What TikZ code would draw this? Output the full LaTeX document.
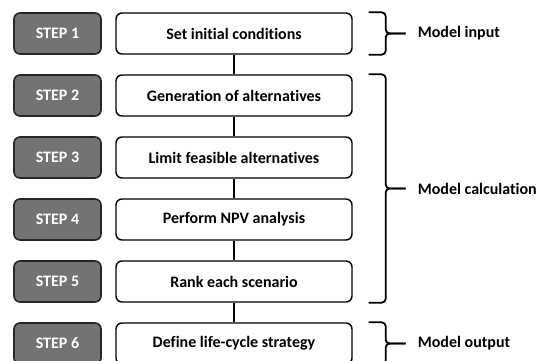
\documentclass[tikz,border=0pt]{standalone}
\usepackage{fontspec}
\setmainfont{Carlito}[Ligatures=NoCommon]
\usetikzlibrary{positioning, calc}

\tikzset{
    stepbox/.style={draw=black!85, fill=black!55, text=white, rounded corners=6pt,
        line width=1.6pt, minimum width=87pt, minimum height=41pt,
        font=\bfseries\fontsize{16}{19}\selectfont},
    taskbox/.style={draw=black, fill=white, rounded corners=6pt,
        line width=1.4pt, minimum width=236pt, minimum height=41pt,
        font=\bfseries\fontsize{16}{19}\selectfont},
    lbl/.style={anchor=west, inner sep=2pt, font=\bfseries\fontsize{16}{19}\selectfont},
    link/.style={line width=1.8pt},
    bracket/.style={line width=1.8pt, rounded corners=4pt, shorten >=10pt},
}

\begin{document}
\begin{tikzpicture}[x=1pt, y=1pt, node distance=62pt and 176.5pt, on grid]

        \useasboundingbox (0,0) rectangle (539,-361);

        \node[stepbox] (s1) at (57.5,-33.5) {STEP 1};
        \node[stepbox, below=of s1] (s2) {STEP 2};
        \node[stepbox, below=of s2] (s3) {STEP 3};
        \node[stepbox, below=of s3] (s4) {STEP 4};
        \node[stepbox, below=of s4] (s5) {STEP 5};
        \node[stepbox, below=of s5] (s6) {STEP 6};

        \node[taskbox, right=of s1] (init) {Set initial conditions};
        \node[taskbox, right=of s2] (gen) {Generation of alternatives};
        \node[taskbox, right=of s3] (limit) {Limit feasible alternatives};
        \node[taskbox, right=of s4] (npv) {Perform NPV analysis};
        \node[taskbox, right=of s5] (rank) {Rank each scenario};
        \node[taskbox, right=of s6] (strat) {Define life-cycle strategy};

        \foreach \a/\b in {init/gen, gen/limit, limit/npv, npv/rank, rank/strat}
            \draw[link] (\a) -- (\b);

        % model input
        \node[lbl] (inp) at ([xshift=63pt]init.east) {Model input};
        \draw[bracket] ([xshift=16pt]init.north east) -- ++(17pt,0) |- (inp);
        \draw[bracket] ([xshift=16pt]init.south east) -- ++(17pt,0) |- (inp);

        % model calculation
        \node[lbl] (calc) at ($(gen.north east)!.5!(rank.south east)+(63pt,0)$) {Model calculation};
        \draw[bracket] ([xshift=16pt]gen.north east) -- ++(17pt,0) |- (calc);
        \draw[bracket] ([xshift=16pt]rank.south east) -- ++(17pt,0) |- (calc);

        % model output
        \node[lbl] (outp) at ([xshift=63pt]strat.east) {Model output};
        \draw[bracket] ([xshift=16pt]strat.north east) -- ++(17pt,0) |- (outp);
        \draw[bracket] ([xshift=16pt]strat.south east) -- ++(17pt,0) |- (outp);

\end{tikzpicture}
\end{document}
